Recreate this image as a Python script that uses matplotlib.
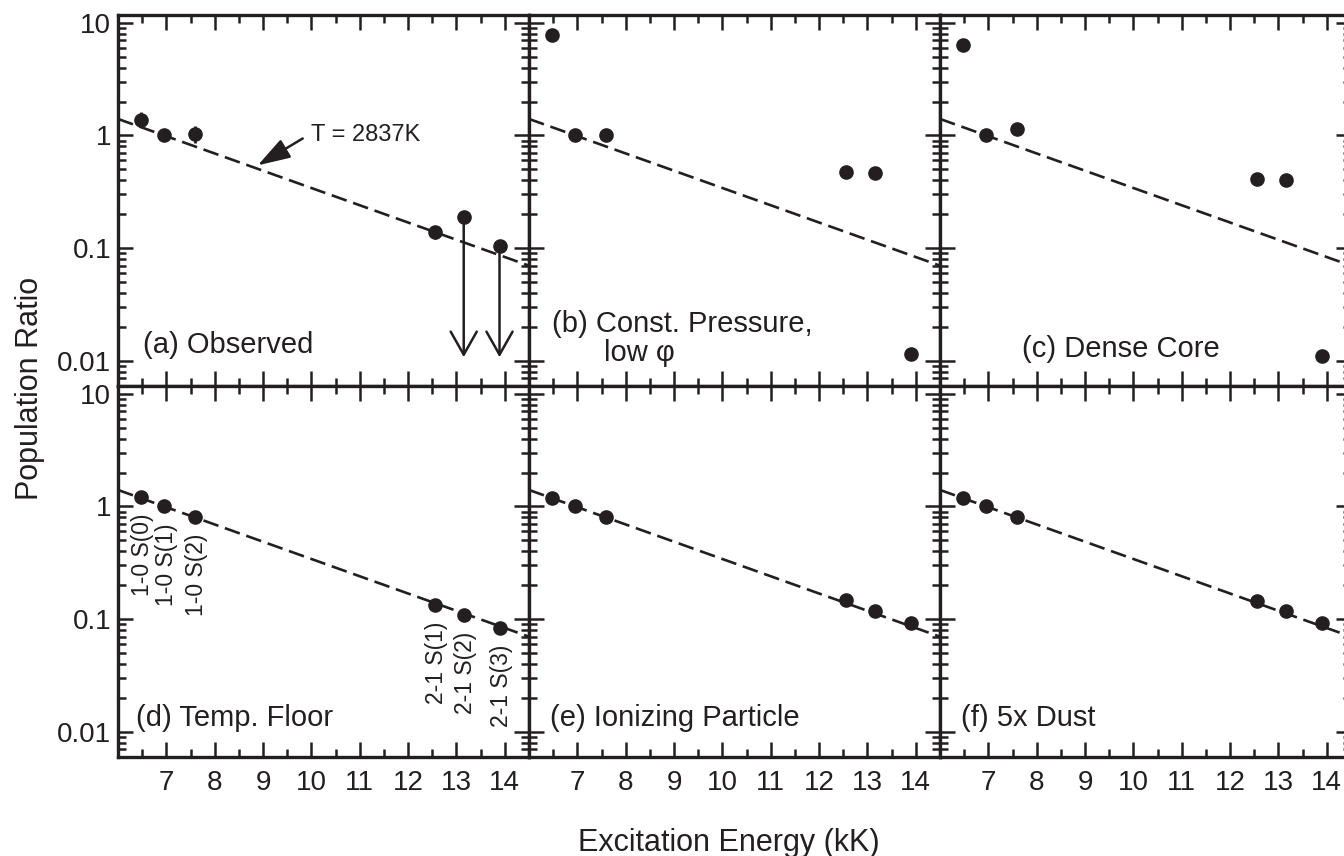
import numpy as np
import matplotlib
matplotlib.use("Agg")
from matplotlib import pyplot as plt
from matplotlib.ticker import FixedLocator, LogLocator, NullFormatter

plt.rcParams['font.family'] = ['Liberation Sans', 'DejaVu Sans']
ink = '#231f20'

# upper-level energies (kK) of the six H2 lines
energy = [6.471, 6.956, 7.586, 12.550, 13.150, 13.890]
lines = ['1-0 S(0)', '1-0 S(1)', '1-0 S(2)', '2-1 S(1)', '2-1 S(2)', '2-1 S(3)']

# population ratios, normalised to 1-0 S(1)
observed = [1.38, 1.00, 1.02, 0.14, 0.19, 0.105]
obs_lo = [1.19, 1.00, 0.86, 0.120, 0.19, 0.105]
obs_hi = [1.62, 1.00, 1.21, 0.153, 0.19, 0.105]
obs_limit = [False, False, False, False, True, True]
const_pressure = [7.8, 1.00, 1.01, 0.475, 0.465, 0.0115]
dense_core = [6.4, 1.00, 1.14, 0.41, 0.405, 0.011]
temp_floor = [1.21, 1.00, 0.80, 0.134, 0.108, 0.084]
ionizing = [1.19, 1.00, 0.81, 0.147, 0.119, 0.093]
dust5x = [1.19, 1.00, 0.81, 0.146, 0.119, 0.093]

T_ex = 2.837  # kK
limit_floor = 0.0108

W, H = 1344, 856
fig = plt.figure(figsize=(W / 100, H / 100), dpi=100)


def make_ax(x0, y0, w=411, h=371):
    ax = fig.add_axes([x0 / W, 1 - (y0 + h) / H, w / W, h / H])
    ax.set_xlim(6.0, 14.5)
    ax.set_yscale('log')
    ax.set_ylim(0.006, 11.7)
    ax.xaxis.set_major_locator(FixedLocator(range(7, 15)))
    ax.xaxis.set_minor_locator(FixedLocator(np.arange(6.5, 14.6, 1.0)))
    ax.yaxis.set_major_locator(LogLocator(base=10, numticks=10))
    ax.yaxis.set_minor_locator(LogLocator(base=10, subs=np.arange(2, 10), numticks=10))
    ax.yaxis.set_minor_formatter(NullFormatter())
    ax.tick_params(which='both', direction='in', top=True, right=True,
                   color=ink, width=1.8, labelsize=20, labelcolor=ink)
    ax.tick_params(which='major', length=10.8)
    ax.tick_params(which='minor', length=5.8)
    ax.tick_params(axis='x', pad=9)
    ax.tick_params(axis='y', pad=5)
    for s in ax.spines.values():
        s.set_linewidth(2.4)
        s.set_color(ink)
    ax.set_yticks([0.01, 0.1, 1, 10])
    ax.set_yticklabels(['0.01', '0.1', '1', '10'])
    return ax


def fit_line(ax):
    xx = np.linspace(6.0, 14.5, 200)
    yy = np.exp(-(xx - energy[1]) / T_ex)
    ln, = ax.plot(xx, yy, color=ink, lw=1.9, zorder=2)
    ln.set_dashes([6.0, 2.6])


def dots(ax, vals):
    ax.plot(energy, vals, 'o', color=ink, ms=9.5, zorder=4, clip_on=False)


lefts = [118, 529, 940]
tops = [15, 386]
axes = [[make_ax(x, y) for x in lefts] for y in tops]

for r in range(2):
    for c in range(3):
        ax = axes[r][c]
        fit_line(ax)
        if c > 0:
            ax.tick_params(labelleft=False)
        if r == 0:
            ax.tick_params(labelbottom=False)

# (a) observed, with error bars and two upper limits
ax = axes[0][0]
dots(ax, observed)
for e, v, lo, hi, lim in zip(energy, observed, obs_lo, obs_hi, obs_limit):
    if lim:
        ax.annotate('', xy=(e, limit_floor), xytext=(e, v),
                    arrowprops=dict(arrowstyle='->,head_length=0.83,head_width=0.47',
                                    color=ink, lw=1.8, mutation_scale=20,
                                    shrinkA=0, shrinkB=0))
    elif hi > lo:
        ax.errorbar([e], [v], yerr=[[v - lo], [hi - v]], fmt='none',
                    ecolor=ink, elinewidth=2.0, capsize=0, zorder=5)
ax.annotate('', xy=(8.89, 0.543), xytext=(9.82, 0.94),
            arrowprops=dict(arrowstyle='-|>,head_length=1.0,head_width=0.32',
                            color=ink, lw=1.8, mutation_scale=20,
                            shrinkA=0, shrinkB=0))
ax.text(10.0, 1.0, 'T = 2837K', fontsize=17, color=ink, va='center', ha='left')
ax.text(0.06, 0.11, '(a) Observed', transform=ax.transAxes, fontsize=21,
        color=ink, va='center', ha='left')

# (b) constant pressure
ax = axes[0][1]
dots(ax, const_pressure)
ax.text(0.057, 0.168, '(b) Const. Pressure,', transform=ax.transAxes,
        fontsize=21, color=ink, va='center', ha='left')
ax.text(0.182, 0.088, 'low \u03c6', transform=ax.transAxes,
        fontsize=21, color=ink, va='center', ha='left')

# (c) dense core
ax = axes[0][2]
dots(ax, dense_core)
ax.text(0.20, 0.10, '(c) Dense Core', transform=ax.transAxes, fontsize=21,
        color=ink, va='center', ha='left')

# (d) temperature floor, with line identifications
ax = axes[1][0]
dots(ax, temp_floor)
for e, v, name in zip(energy, temp_floor, lines):
    ax.annotate(name, xy=(e, v), xytext=(1.5, -12), textcoords='offset points',
                rotation=90, ha='center', va='top', fontsize=16.5, color=ink)
ax.text(0.045, 0.105, '(d) Temp. Floor', transform=ax.transAxes, fontsize=21,
        color=ink, va='center', ha='left')

# (e) ionizing particle
ax = axes[1][1]
dots(ax, ionizing)
ax.text(0.05, 0.105, '(e) Ionizing Particle', transform=ax.transAxes,
        fontsize=21, color=ink, va='center', ha='left')

# (f) 5x dust
ax = axes[1][2]
dots(ax, dust5x)
ax.text(0.05, 0.105, '(f) 5x Dust', transform=ax.transAxes, fontsize=21,
        color=ink, va='center', ha='left')

fig.text(30 / W, 1 - 388 / H, 'Population Ratio', rotation=90, fontsize=22,
         color=ink, ha='center', va='center')
fig.text(729 / W, 1 - 843 / H, 'Excitation Energy (kK)', fontsize=22,
         color=ink, ha='center', va='center')

fig.savefig('out.png', dpi=100, facecolor='white')
